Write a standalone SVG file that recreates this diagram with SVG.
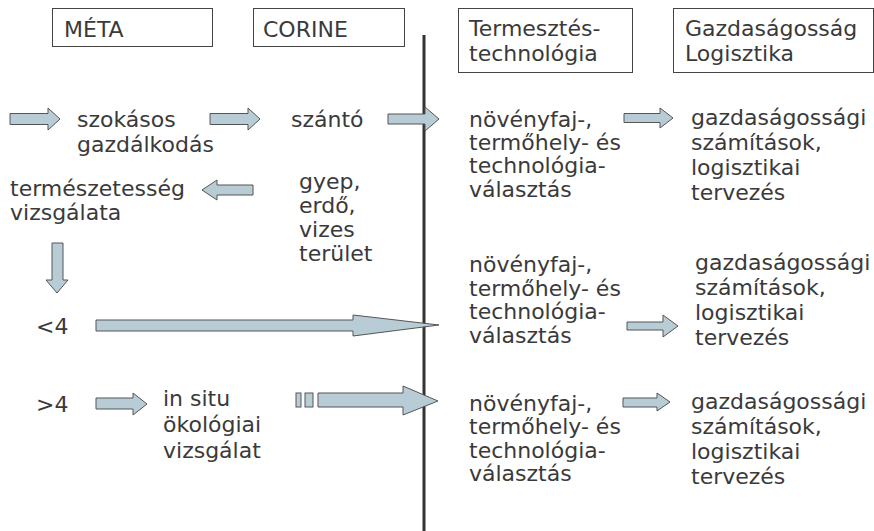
<svg xmlns="http://www.w3.org/2000/svg" width="874" height="531" viewBox="0 0 874 531">
<style>
text{font-family:"DejaVu Sans","Verdana",sans-serif;font-size:22px;fill:#3a3a3a}
.box{fill:#fff;stroke:#444;stroke-width:1}
.arr{fill:#b8ccd6;stroke:#555;stroke-width:1}
</style>
<rect width="874" height="531" fill="#fff"/>
<g id="meta"><rect class="box" x="52.5" y="8.5" width="160" height="38"/><text x="64" y="37">MÉTA</text></g>
<g id="corine"><rect class="box" x="253.5" y="8.5" width="151" height="38"/><text x="263" y="37">CORINE</text></g>
<g id="termesztes"><rect class="box" x="458.5" y="8.5" width="174" height="64"/><text x="469" y="36">Termesztés-</text><text x="469" y="61">technológia</text></g>
<g id="gazdasagossag"><rect class="box" x="673.5" y="8.5" width="200" height="64"/><text x="685" y="36">Gazdaságosság</text><text x="685" y="61">Logisztika</text></g>
<g id="divider"><line x1="424" y1="35" x2="424" y2="531" stroke="#333" stroke-width="3"/></g>
<g id="szokasos"><text x="77" y="127">szokásos</text><text x="77" y="152">gazdálkodás</text></g>
<g id="szanto"><text x="291" y="127">szántó</text></g>
<g id="gyep"><text x="299" y="189">gyep,</text><text x="299" y="213">erdő,</text><text x="299" y="237">vizes</text><text x="299" y="261">terület</text></g>
<g id="termeszetesseg"><text x="10" y="196">természetesség</text><text x="10" y="220">vizsgálata</text></g>
<g id="lt4"><text x="36" y="334">&lt;4</text></g>
<g id="gt4"><text x="36" y="412">&gt;4</text></g>
<g id="insitu"><text x="163" y="406">in situ</text><text x="163" y="432">ökológiai</text><text x="163" y="458">vizsgálat</text></g>
<g id="novenyfaj1"><text x="469" y="127">növényfaj-,</text><text x="469" y="150">termőhely- és</text><text x="469" y="173">technológia-</text><text x="469" y="197">választás</text></g>
<g id="gazd1"><text x="691" y="125">gazdaságossági</text><text x="691" y="150">számítások,</text><text x="691" y="175">logisztikai</text><text x="691" y="200">tervezés</text></g>
<g id="novenyfaj2"><text x="469" y="272">növényfaj-,</text><text x="469" y="296">termőhely- és</text><text x="469" y="319">technológia-</text><text x="469" y="343">választás</text></g>
<g id="gazd2"><text x="695" y="270">gazdaságossági</text><text x="695" y="295">számítások,</text><text x="695" y="320">logisztikai</text><text x="695" y="345">tervezés</text></g>
<g id="novenyfaj3"><text x="469" y="411">növényfaj-,</text><text x="469" y="434">termőhely- és</text><text x="469" y="458">technológia-</text><text x="469" y="481">választás</text></g>
<g id="gazd3"><text x="691" y="409">gazdaságossági</text><text x="691" y="434">számítások,</text><text x="691" y="459">logisztikai</text><text x="691" y="484">tervezés</text></g>
<g id="connectors">
<path class="arr" d="M10,113.5H48V108L60,119L48,130V124.5H10Z"/>
<path class="arr" d="M210,113.5H248V108L260,119L248,130V124.5H210Z"/>
<path class="arr" d="M388,114H425V107L439,119L425,131V124H388Z"/>
<path class="arr" d="M624,113.5H660V108L673,118L660,128V122.5H624Z"/>
<path class="arr" d="M253,185H217V180L202,190L217,200V195H253Z"/>
<path class="arr" d="M52,243V280H46L57,293L68,280H63V243Z"/>
<path class="arr" d="M96,320H353V315L439,325L353,336V331H96Z"/>
<path class="arr" d="M627,322H663V315L678,326L663,337V330H627Z"/>
<path class="arr" d="M96,398H133V393L147,404L133,415V409H96Z"/>
<rect class="arr" x="296" y="393" width="5" height="14"/>
<rect class="arr" x="305" y="393" width="8" height="14"/>
<path class="arr" d="M318,393H403V386L438,401L403,415V407H318Z"/>
<path class="arr" d="M623,398H657V393L670,402L657,411V407H623Z"/>
</g>
</svg>
